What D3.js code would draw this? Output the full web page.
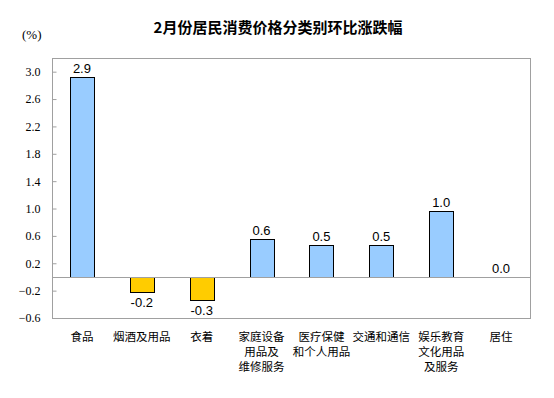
<!DOCTYPE html>
<html><head><meta charset="utf-8">
<script src="https://cdn.jsdelivr.net/npm/d3@7"></script>
<style>body{margin:0;background:#fff}svg{display:block}</style>
</head><body>
<script>
const categories = [["食品"],["烟酒及用品"],["衣着"],["家庭设备","用品及","维修服务"],["医疗保健","和个人用品"],["交通和通信"],["娱乐教育","文化用品","及服务"],["居住"]];
const values = [2.92,-0.22,-0.34,0.55,0.47,0.47,0.97,0.0];
const valueLabels = ["2.9","-0.2","-0.3","0.6","0.5","0.5","1.0","0.0"];
const tickValues = [-0.6,-0.2,0.2,0.6,1.0,1.4,1.8,2.2,2.6,3.0];
const title = "2月份居民消费价格分类别环比涨跌幅";
const unit = "(%)";

const W=554,H=398;
const m={left:52,right:531,top:58,bottom:318};
const svg=d3.select("body").append("svg").attr("width",W).attr("height",H);
const x=d3.scaleBand().domain(d3.range(values.length)).range([m.left,m.right]).paddingInner(0.6).paddingOuter(0.3);
const y=d3.scaleLinear().domain([-0.6,3.2]).range([m.bottom,m.top]);

svg.append("text").attr("x",278).attr("y",33).attr("text-anchor","middle")
  .attr("font-family","'Noto Sans CJK SC',sans-serif").attr("font-weight","bold").attr("font-size",15).text(title);
svg.append("text").attr("x",22).attr("y",39).attr("font-family","'Liberation Serif',serif").attr("font-size",13).text(unit);

// frame
svg.append("rect").attr("x",m.left+0.5).attr("y",m.top+0.5).attr("width",m.right-m.left-1).attr("height",m.bottom-m.top)
  .attr("fill","none").attr("stroke","#a0a0a0");

const ax=svg.append("g").attr("transform",`translate(${m.left+0.5},0)`)
  .call(d3.axisLeft(y).tickValues(tickValues).tickFormat(d3.format(".1f")).tickSizeInner(-4).tickSizeOuter(0).tickPadding(12));
ax.select(".domain").remove();
ax.selectAll(".tick line").attr("stroke","#a0a0a0");
ax.selectAll(".tick text").attr("font-family","'Liberation Serif',serif").attr("font-size",12).attr("fill","#000");

// bars
svg.selectAll(".bar").data(values).enter().append("rect")
  .attr("x",(d,i)=>Math.round(x(i))+0.5).attr("width",Math.round(x.bandwidth()))
  .attr("y",d=>Math.round(y(Math.max(0,d)))+0.5).attr("height",d=>Math.abs(Math.round(y(d))-Math.round(y(0))))
  .attr("fill",d=>d<0?"#ffcc00":"#99ccff").attr("stroke",d=>d===0?"none":"#000").attr("stroke-width",1);

// zero line
svg.append("line").attr("x1",m.left).attr("x2",m.right).attr("y1",Math.round(y(0))+0.5).attr("y2",Math.round(y(0))+0.5).attr("stroke","#a0a0a0");

// value labels
svg.selectAll(".vl").data(values).enter().append("text")
  .attr("x",(d,i)=>x(i)+x.bandwidth()/2).attr("y",d=>d<0?y(d)+15:y(d)-4)
  .attr("text-anchor","middle").attr("font-family","'Liberation Sans',Arial,sans-serif").attr("font-size",13)
  .text((d,i)=>valueLabels[i]);

// category labels (one text element per line)
categories.forEach((lines,i)=>{
  lines.forEach((l,j)=>{
    svg.append("text").attr("x",x(i)+x.bandwidth()/2).attr("y",341+j*15)
      .attr("text-anchor","middle").attr("font-family","'Noto Sans CJK SC',sans-serif").attr("font-size",11.5)
      .text(l);
  });
});
</script>
</body></html>
